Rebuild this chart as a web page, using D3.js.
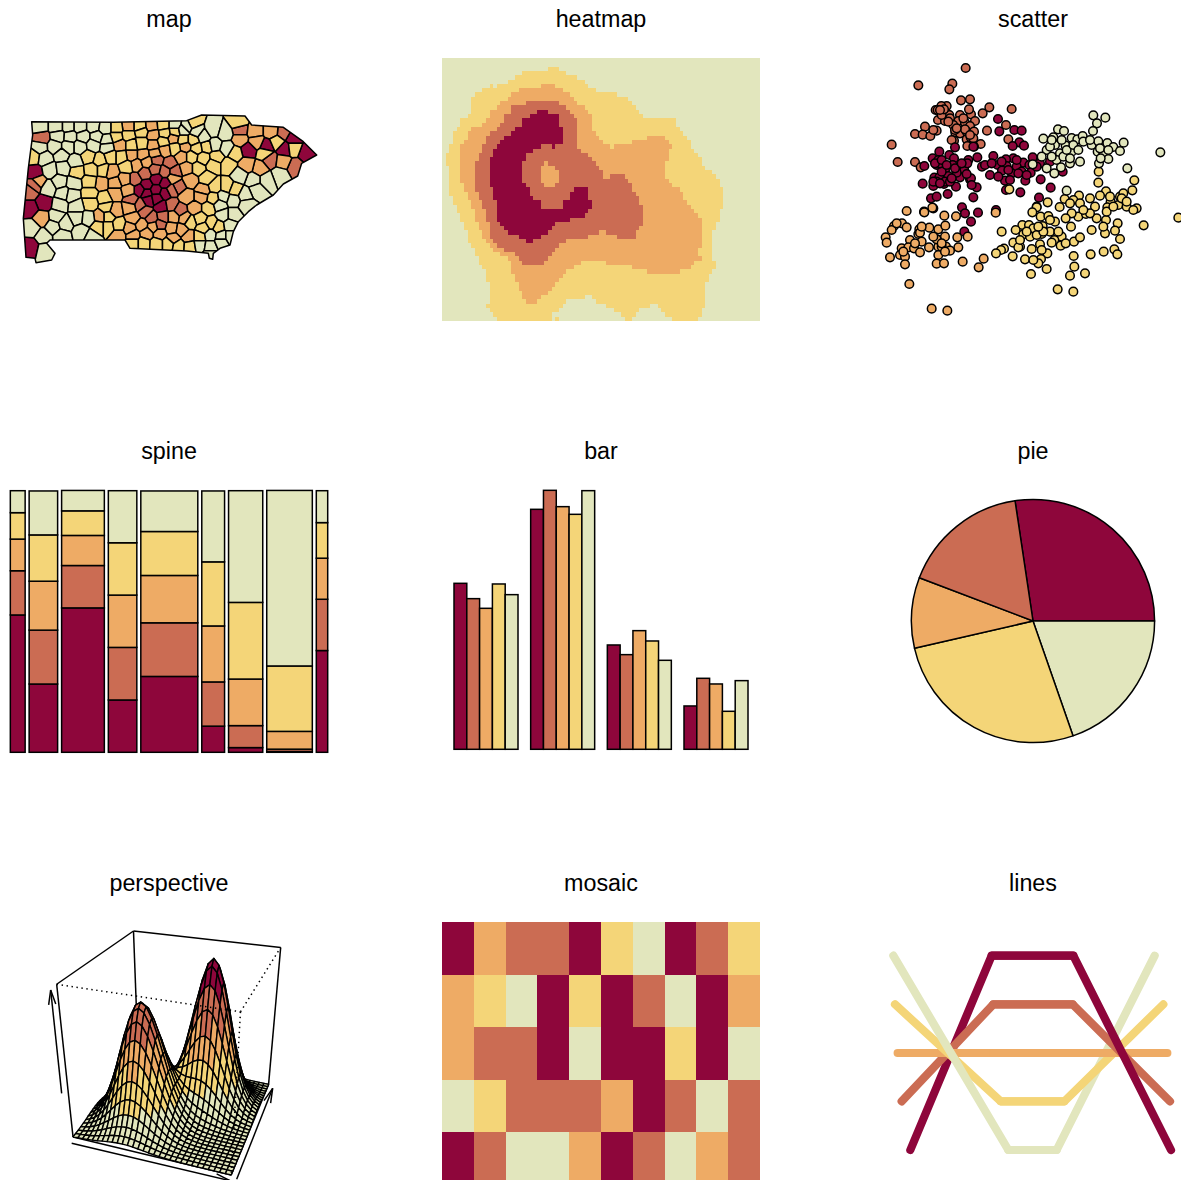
<!DOCTYPE html>
<html><head><meta charset="utf-8">
<script src="https://cdn.jsdelivr.net/npm/d3@7"></script>
<style>html,body{margin:0;padding:0;background:#fff;overflow:hidden}svg{display:block}
text{font-family:"Liberation Sans",Arial,sans-serif;fill:#000}</style></head><body>
<svg id="chart" width="1181" height="1180"></svg>
<script>
const panelTitles=["map","heatmap","scatter","spine","bar","pie","perspective","mosaic","lines"];
const palette=["#8E063B","#CB6C53","#EEAB65","#F4D578","#E2E6BD"]; // C R O Y L
const LW=1.5;

// ---- map: county seed points per colour class
const mapOutline=[95,95,340,97,560,92,605,75,735,78,755,105,850,112,910,155,950,195,905,220,893,258,850,282,820,315,770,345,745,365,715,395,700,425,690,465,660,475,640,490,638,508,628,505,625,490,560,483,390,475,375,450,150,450,140,460,165,490,155,510,108,518,105,505,78,502,70,385,85,235,98,135];
const mapC=[105,248,132,338,90,355,92,470,420,300,440,285,470,268,495,280,440,310,468,300,495,310,445,330,470,325,485,350,880,145,800,168,745,180,855,178,920,190];
const mapR=[125,143,90,305,105,285,470,210,510,220,405,268,435,250,465,238,495,245,525,245,535,290,395,330,515,300,420,345,515,345,540,360,435,365,455,385,490,380,480,405,720,120,850,128,810,210,885,230];
const mapO=[125,385,115,275,305,280,345,280,345,310,345,360,300,380,355,435,385,110,455,108,460,135,360,165,460,165,520,145,395,195,430,195,465,190,495,180,555,170,410,225,440,215,545,200,375,268,560,235,385,300,520,265,572,270,610,300,560,320,605,320,390,352,585,355,400,385,520,380,555,385,390,415,425,405,460,410,515,415,545,420,400,435,440,430,480,430,520,445,565,440,720,148,765,125,770,155,815,125,850,215,780,235,740,225,335,245];
const mapY=[100,200,265,200,300,210,332,200,230,245,275,240,310,240,270,310,315,325,270,340,320,352,325,380,295,410,325,410,355,405,350,115,420,110,490,105,580,100,350,140,385,135,425,125,495,130,525,125,395,165,425,160,490,155,550,150,580,150,365,200,525,175,590,175,620,170,380,230,575,200,610,205,650,200,705,190,715,100,595,235,640,225,685,225,620,265,645,290,680,290,705,300,640,325,625,355,600,385,635,400,570,395,610,415,655,410,600,440,400,460,430,460,470,462,505,462,535,468,570,470,830,155,880,175,795,190,270,275];
const mapL=[120,110,170,110,205,110,240,110,280,110,315,115,175,138,210,140,250,140,290,140,320,150,120,172,165,170,205,170,240,170,280,165,322,172,135,205,185,195,225,215,150,240,190,235,145,295,180,275,220,280,190,310,180,345,215,315,230,350,230,382,170,380,160,410,195,400,185,438,245,425,265,385,275,440,95,415,130,440,135,480,525,105,560,110,550,120,590,125,610,140,640,120,645,165,675,130,680,175,670,320,660,345,700,330,670,375,700,375,690,405,630,435,665,440,690,440,600,465,630,470,665,455,630,495,840,255,800,270,760,270,720,255,770,300,735,315,740,345];

// ---- heatmap: per row, level:from-to runs over 87 columns (0 L,1 Y,2 O,3 R,4 C)
const heatRows=["","","1:29-32","1:22-34","1:20-37","1:18-39","1:13-14,1:15-40,2:27-31","1:11-42,2:21-33","1:9-48,2:19-35","1:8-51,2:18-36",
"1:8-52,2:16-37,3:23-32","1:8-53,2:15-39,3:19-34","1:8-54,2:13-40,3:19-35,4:26-29","1:7-55,2:13-41,3:17-36,4:24-32","1:5-64,2:12-41,3:17-37,4:22-32","1:5-64,2:11-41,3:16-37,4:22-32","1:4-65,2:8-41,3:15-37,4:20-33","1:3-66,2:7-42,3:13-37,4:19-33","1:3-67,2:7-43,2:56-61,3:12-37,4:17-33","1:3-68,2:6-44,2:52-62,3:12-37,4:16-33",
"1:2-68,2:5-46,2:47-63,3:11-37,4:15-27,4:30-31","1:2-69,2:5-62,3:11-38,4:14-25","1:1-70,2:5-62,3:10-40,4:14-23","1:1-71,2:5-62,3:10-41,4:13-23","1:1-71,2:5-61,3:9-42,4:13-22,2:28-29","1:2-72,2:5-61,3:9-43,4:13-22,2:27-31","1:2-74,2:5-61,3:9-44,4:13-22,2:27-32","1:2-75,2:5-61,3:9-44,3:46-50,4:13-22,2:27-32","1:2-76,2:5-62,3:9-51,4:13-22,2:27-32","1:2-76,2:6-63,3:9-52,4:13-23,2:28-31",
"1:2-77,2:6-65,3:9-52,4:14-24,4:36-40","1:2-77,2:7-66,3:10-53,4:14-24,4:35-40","1:3-77,2:7-66,3:10-54,4:14-25,4:35-40","1:3-77,2:8-67,3:11-54,4:15-27,4:33-41","1:4-77,2:8-68,3:11-55,4:15-27,4:33-41","1:4-76,2:9-69,3:12-55,4:15-40","1:5-76,2:9-70,3:12-55,4:15-39","1:5-76,2:9-71,3:12-55,4:15-35","1:6-75,2:10-71,3:13-55,4:16-31","1:6-75,2:10-71,3:13-54,4:17-30",
"1:7-74,2:11-71,3:13-43,3:45-53,4:18-29","1:7-74,2:11-71,3:13-40,3:48-53,4:21-27","1:7-74,2:12-71,3:14-34,4:23-25","1:8-74,2:13-71,3:15-32","1:9-74,2:14-70,3:17-31","1:9-74,2:16-70,3:20-30","1:10-74,2:18-71,3:21-29","1:10-75,2:19-38,2:45-69,3:22-28","1:11-75,2:19-36,2:52-68","1:12-74,2:19-34,2:56-65",
"1:12-73,2:20-33","1:12-73,2:20-32","1:13-72,2:21-31","1:13-72,2:21-30","1:13-72,2:22-29","1:13-72,2:22-27,0:39-41","1:13-72,2:23-26,0:34-42","1:12-72,0:33-45,0:57-59","1:13-71,0:32-47,0:54-60","1:14-71,0:30-49,0:53-61","1:15-70,0:30-31,0:32-50,0:52-63"];

// ---- scatter points per class
const scatR=[287,54,145,106,247,101,238,118,273,151,300,148,425,177,358,172,338,190,230,168,214,168,197,180,203,180,230,190,238,195,270,195,303,193,297,178,204,210,225,213,240,205,265,213,285,218,315,213,300,228,250,225,165,230,200,242,135,252,158,254,181,258,190,240,256,248,270,250,290,245,312,245,351,242,408,225,252,272,290,268,302,262,332,282,292,288,312,290,415,268,65,284,83,336,135,336,152,352,215,195,222,178,255,240,310,265,285,238,245,270,260,235,300,255,210,180,235,215,280,205];
const scatC=[384,207,388,244,433,240,455,242,448,277,428,288,462,287,255,292,310,290,208,305,188,325,205,330,238,315,252,325,295,330,322,322,370,318,430,325,408,328,460,338,488,322,510,340,540,335,163,348,200,345,225,360,248,345,268,352,283,360,336,350,360,375,383,345,410,348,396,362,440,350,478,345,455,365,482,368,193,383,208,382,235,378,270,382,300,388,405,392,466,392,512,388,158,401,190,408,222,402,258,410,320,412,303,385,408,420,451,427,233,432,183,445,200,440,310,442,542,413,507,443,276,472,500,470,190,475,162,485,285,490,324,488,378,480,303,515,283,545,225,395,260,368,215,365,345,345,385,380,425,370,578,365,420,390,292,340,210,340,290,372,200,395,240,395,195,340,215,330,230,345,255,355,275,340,190,395,210,400,245,385,305,405,365,340,395,335,415,360,445,370,470,375,440,330,500,350];
const scatO=[110,483,163,487,187,473,223,497,258,499,377,488,96,520,72,528,65,540,110,532,148,538,178,533,205,538,226,527,47,562,50,578,120,570,145,552,155,575,207,570,225,560,262,562,293,560,95,595,115,592,132,595,150,607,177,592,205,590,228,590,240,602,265,592,60,622,90,615,105,620,205,615,105,643,200,641,222,640,278,635,341,626,326,652,118,702,185,776,232,782,150,548,200,568,215,590,215,580,135,580,100,605,225,605,190,560,155,530,80,520];
const scatY=[686,365,793,391,685,398,787,421,708,424,627,437,610,450,584,447,533,457,569,471,500,472,487,487,630,460,660,445,690,437,750,440,760,430,722,455,745,465,770,470,800,475,790,480,712,472,675,470,625,500,648,492,605,490,587,505,512,500,535,498,555,515,540,510,680,505,708,510,743,520,821,526,925,503,665,540,705,550,735,542,750,567,603,530,457,525,437,540,477,525,395,545,460,553,490,535,518,528,540,545,515,552,575,560,553,570,430,578,450,590,402,596,393,600,378,610,445,592,485,597,510,583,545,578,572,587,587,580,612,575,630,562,532,610,428,619,465,628,513,627,505,640,530,657,611,618,662,613,701,605,733,598,742,613,613,650,645,670,600,677,483,672,563,718,610,725,565,545,480,560,500,555,418,418,520,545,505,530,470,545,450,570,515,600,490,630,710,485,730,470,660,490,640,480,700,530,755,445,770,455,600,460,720,440];
const scatL=[670,196,706,203,681,220,669,243,564,238,582,243,520,266,550,262,605,264,622,268,638,258,665,285,685,274,712,279,761,278,587,287,555,285,530,300,515,320,570,310,615,295,605,305,640,275,730,291,750,303,683,305,700,310,715,327,630,335,600,340,560,330,488,343,530,355,573,352,553,370,871,307,772,355,687,340,590,422,692,325,540,290,580,320,590,300,610,285,625,300,660,270,690,295,715,300,545,270,575,270,600,325,545,320];

// ---- spine
const spineWeights=[2.6,5,7.5,5,10,4,6,8,2];
const spineC=[52.5,26.1,55.2,20,29,10,1.8,0.3,38.9];
const spineR=[16.9,20.6,16.2,20.1,20.5,16.9,8.4,0.9,19.6];
const spineO=[12.1,18.7,11.5,20,18.1,21.4,17.8,6.8,15.7];
const spineY=[10.1,17.7,9.4,20,16.8,24.5,29.3,25,13.6];
const spineL=[8.4,16.8,7.8,19.9,15.5,27.1,42.7,67.1,12.2];

// ---- bar
const barGroups=["A","B","C","D"];
const barC=[49.8,72,31.3,13];
const barR=[45.2,77.7,28.4,21.3];
const barO=[42.3,72.8,35.6,19.6];
const barY=[49.6,70.5,32.5,11.4];
const barL=[46.4,77.6,26.7,20.6];

// ---- pie (clockwise, degrees)
const pieValues=[98.5,70.8,96.3,33.7,60.7];
const pieColours=[0,4,3,2,1];

// ---- perspective: upper triangle of a symmetric 31x31 height table (per mille); omitted trailing cells are 0
const surfaceZ=[
[2,3,5,8,12,16,22,27,31,35,36,35,31,27,22,16,12,8,5,3,2,1],
[5,9,14,21,30,39,49,57,63,65,63,57,49,39,30,21,14,9,5,3,2,1],
[15,24,36,50,67,83,97,106,110,106,97,83,67,50,36,24,15,9,5,3,1,1],
[38,57,80,106,132,155,170,175,170,155,132,106,80,57,38,24,14,8,4,2,1],
[85,120,160,199,232,255,263,255,232,199,160,120,85,57,36,21,12,6,3,1,1],
[170,225,280,327,359,371,359,327,280,225,170,120,80,50,30,16,9,4,2,1],
[298,371,434,476,491,476,434,371,298,225,160,107,67,40,22,12,6,3,1,1],
[462,540,593,611,593,540,462,371,280,199,133,84,50,28,15,8,4,2,1,1],
[631,693,715,693,631,540,435,329,234,157,100,61,35,20,11,6,4,2,1,1],
[761,785,761,694,594,478,363,260,176,114,72,44,27,17,11,7,4,3,1,1],
[810,786,717,615,497,379,274,190,128,85,57,39,27,19,13,9,6,3,2,1],
[763,697,599,487,376,279,201,144,105,78,60,46,35,25,17,11,7,4,2,1],
[638,552,455,360,278,214,169,138,116,98,81,63,47,33,21,13,7,4,2],
[484,409,338,280,239,212,194,178,159,136,110,83,58,38,23,13,7,3],
[360,320,294,283,280,279,271,251,219,179,136,96,62,38,21,11,5],
[315,326,350,377,396,398,375,331,271,206,146,95,58,32,17,8],
[376,438,498,540,551,525,465,382,292,206,135,81,46,24,11],
[537,629,694,714,684,608,500,382,269,176,107,60,31,15],
[749,833,862,827,736,606,462,327,214,129,73,38,18],
[931,965,927,825,680,519,367,240,145,82,42,20],
[1002,963,857,707,539,381,249,151,85,44,21],
[926,825,680,519,367,240,145,82,42,20],
[734,606,462,327,214,129,73,38,18],
[499,381,269,176,107,60,31,15],
[291,206,135,81,46,24,11],
[145,95,58,32,17,8],
[62,38,21,11,5],
[23,13,7,3],
[7,4,2],
[2,1],
[0]];
const surfaceBreaks=[800,600,400,200];
const viewTheta=20, viewPhi=28, viewR=5;

// ---- mosaic rows (colour indices)
const mosaicRows=[
[0,2,1,1,0,3,4,0,1,3],
[2,3,4,0,3,0,1,4,0,2],
[2,1,1,0,4,0,0,3,0,4],
[4,3,1,1,1,2,0,1,4,1],
[0,1,4,4,2,0,1,4,2,1]];

// ---- lines
const lineXC=[91,335,580,873], lineYC=[630,47,47,630];
const lineXR=[65,340,578,870], lineYR=[484,193,193,484];
const lineXO=[53,340,580,862], lineYO=[339,339,339,339];
const lineXY=[45,362,553,850], lineYY=[193,484,484,193];
const lineXL=[40,385,530,824], lineYL=[47,630,630,47];

// =========================================================
const svg=d3.select("#chart");
const titleX=[169,601,1033], titleY=[27,459,891];
svg.selectAll("text.t").data(panelTitles).join("text").attr("class","t")
  .attr("x",(d,i)=>titleX[i%3]).attr("y",(d,i)=>titleY[Math.floor(i/3)])
  .attr("text-anchor","middle").attr("font-size",23.3).text(d=>d);
const pairs=a=>d3.range(a.length/2).map(i=>[a[2*i],a[2*i+1]]);

// map
(function(){
  const x=d3.scaleLinear().domain([0,1020]).range([0,340]);
  const y=d3.scaleLinear().domain([0,570]).range([90,280]);
  const g=svg.append("g");
  const seeds=[];
  [mapC,mapR,mapO,mapY,mapL].forEach((a,k)=>pairs(a).forEach(p=>seeds.push({x:x(p[0]),y:y(p[1]),k})));
  const vor=d3.Delaunay.from(seeds,d=>d.x,d=>d.y).voronoi([0,80,345,290]);
  const outline=d3.line().x(d=>x(d[0])).y(d=>y(d[1])).curve(d3.curveLinearClosed)(pairs(mapOutline));
  svg.append("defs").append("clipPath").attr("id","mapclip").append("path").attr("d",outline);
  g.append("g").attr("clip-path","url(#mapclip)").selectAll("path").data(seeds).join("path")
    .attr("d",(d,i)=>vor.renderCell(i)).attr("fill",d=>palette[d.k]).attr("stroke","#000").attr("stroke-width",LW).attr("stroke-linejoin","round");
  g.append("path").attr("d",outline).attr("fill","none").attr("stroke","#000").attr("stroke-width",LW).attr("stroke-linejoin","round");
})();

// heatmap
(function(){
  const lv=[4,3,2,1,0];
  const x=d3.scaleBand().domain(d3.range(87)).range([442,760]);
  const y=d3.scaleBand().domain(d3.range(61)).range([58,321]);
  const cells=[];
  heatRows.forEach((s,r)=>{
    const row=new Array(87).fill(0);
    if(s) s.split(",").forEach(t=>{const [l,se]=t.split(":");const [a,b]=se.split("-").map(Number);for(let c=a;c<b;c++)row[c]=+l;});
    row.forEach((l,c)=>cells.push({r,c,l}));
  });
  const R=Math.round;
  svg.append("g").attr("shape-rendering","crispEdges").selectAll("rect").data(cells).join("rect")
    .attr("x",d=>R(x(d.c))).attr("y",d=>R(y(d.r)))
    .attr("width",d=>R(x(d.c)+x.bandwidth())-R(x(d.c))).attr("height",d=>R(y(d.r)+y.bandwidth())-R(y(d.r)))
    .attr("fill",d=>palette[lv[d.l]]);
})();

// scatter
(function(){
  const x=d3.scaleLinear().domain([0,933]).range([870,1181]);
  const y=d3.scaleLinear().domain([0,840]).range([50,330]);
  const g=svg.append("g");
  [[scatR,1],[scatC,0],[scatO,2],[scatY,3],[scatL,4]].forEach(([a,k])=>{
    g.append("g").selectAll("circle").data(pairs(a)).join("circle")
      .attr("cx",d=>x(d[0])).attr("cy",d=>y(d[1])).attr("r",4.3)
      .attr("fill",palette[k]).attr("stroke","#000").attr("stroke-width",LW);
  });
})();

// spine
(function(){
  const gap=0.7;
  const total=d3.sum(spineWeights)+gap*(spineWeights.length-1);
  const x=d3.scaleLinear().domain([0,total]).range([10.33,327.7]);
  const y=d3.scaleLinear().domain([0,100]).range([752.3,490.7]);
  const g=svg.append("g");
  let pos=0;
  spineWeights.forEach((w,i)=>{
    let acc=0;
    [spineC,spineR,spineO,spineY,spineL].forEach((s,k)=>{
      g.append("rect").attr("x",x(pos)).attr("width",x(pos+w)-x(pos))
        .attr("y",y(acc+s[i])).attr("height",y(acc)-y(acc+s[i]))
        .attr("fill",palette[k]).attr("stroke","#000").attr("stroke-width",LW);
      acc+=s[i];
    });
    pos+=w+gap;
  });
})();

// bar
(function(){
  const x0=d3.scaleBand().domain(barGroups).range([454,748]).paddingInner(38/230);
  const series=[barC,barR,barO,barY,barL];
  const x1=d3.scaleBand().domain(d3.range(5)).range([0,x0.bandwidth()]);
  const y=d3.scaleLinear().domain([0,100]).range([749.3,416]);
  const g=svg.append("g");
  barGroups.forEach((b,i)=>series.forEach((s,k)=>{
    g.append("rect").attr("x",x0(b)+x1(k)).attr("width",x1.bandwidth()).attr("y",y(s[i])).attr("height",y(0)-y(s[i]))
      .attr("fill",palette[k]).attr("stroke","#000").attr("stroke-width",LW);
  }));
})();

// pie
(function(){
  const start=-8.5*Math.PI/180;
  const pie=d3.pie().sort(null).startAngle(start).endAngle(start+2*Math.PI);
  const arc=d3.arc().innerRadius(0).outerRadius(121.6);
  svg.append("g").attr("transform","translate(1033,621)").selectAll("path").data(pie(pieValues)).join("path")
    .attr("d",arc).attr("fill",(d,i)=>palette[pieColours[i]]).attr("stroke","#000").attr("stroke-width",LW).attr("stroke-linejoin","round");
})();

// perspective
(function(){
  const n=31, rad=Math.PI/180;
  const ct=Math.cos(viewTheta*rad),st=Math.sin(viewTheta*rad),cp=Math.cos(viewPhi*rad),sp=Math.sin(viewPhi*rad);
  const Z=(i,j)=>{const a=Math.min(i,j),b=Math.max(i,j);const v=surfaceZ[a][b-a];return v===undefined?0:v;};
  const proj=(u,v,w)=>{
    const q=u*st-v*ct, zz=w*sp+q*cp, d=viewR+2-zz;
    return [(u*ct+v*st)/d,(w*cp-q*sp)/d];
  };
  const corners={A:[-1,-1,-1],B:[1,-1,-1],C:[1,1,-1],D:[-1,1,-1],a:[-1,-1,1],b:[1,-1,1],c:[1,1,1],d:[-1,1,1]};
  const pr={};Object.keys(corners).forEach(k=>pr[k]=proj(...corners[k]));
  // screen fit
  const sx=d3.scaleLinear().domain([pr.a[0],pr.c[0]]).range([30+80/3,30+752/3]);
  const sy=d3.scaleLinear().domain([pr.B[1],pr.d[1]]).range([920+765/3,920+33/3]);
  const P=p=>[sx(p[0]),sy(p[1])];
  const line=d3.line();
  const g=svg.append("g").attr("fill","none").attr("stroke","#000").attr("stroke-width",LW);
  [["A","B"],["B","C"],["C","D"],["D","A"],["a","d"],["d","c"],["c","C"],["d","D"],["a","A"]].forEach(e=>
    g.append("path").attr("d",line([P(pr[e[0]]),P(pr[e[1]])])));
  const toU=d3.scaleLinear().domain([0,n-1]).range([-1,1]);
  const toW=d3.scaleLinear().domain([0,1002]).range([-1,1]);
  const facets=[];
  for(let i=0;i<n-1;i++)for(let j=n-2;j>=0;j--){
    const vals=[[i,j],[i+1,j],[i+1,j+1],[i,j+1]];
    const m=d3.mean(vals,c=>Z(c[0],c[1]));
    let k=4; surfaceBreaks.forEach((b,t)=>{if(k===4&&m>=b)k=t;});
    facets.push({pts:vals.map(c=>P(proj(toU(c[0]),toU(c[1]),toW(Z(c[0],c[1]))))),k});
  }
  svg.append("g").selectAll("path").data(facets).join("path")
    .attr("d",d=>line(d.pts)+"Z").attr("fill",d=>palette[d.k]).attr("stroke","#000").attr("stroke-width",1.4).attr("stroke-linejoin","round");
  const f=svg.append("g").attr("fill","none").attr("stroke","#000").attr("stroke-width",LW).attr("stroke-dasharray","1.4 3.6");
  [["a","b"],["b","c"],["b","B"]].forEach(e=>f.append("path").attr("d",line([P(pr[e[0]]),P(pr[e[1]])])));
  // axis arrows
  const zx=d3.scaleLinear().domain([0,810]).range([30,300]);
  const zy=d3.scaleLinear().domain([0,780]).range([920,1180]);
  const arrows=[[95,520,62,210],[125,670,600,782],[620,778,728,505]];
  const ag=svg.append("g").attr("fill","none").attr("stroke","#000").attr("stroke-width",LW);
  arrows.forEach(a=>{
    const p0=[zx(a[0]),zy(a[1])],p1=[zx(a[2]),zy(a[3])];
    const ang=Math.atan2(p1[1]-p0[1],p1[0]-p0[0]),L=15,da=0.24;
    ag.append("path").attr("d",line([p0,p1]));
    ag.append("path").attr("d",line([[p1[0]-L*Math.cos(ang-da),p1[1]-L*Math.sin(ang-da)],p1,[p1[0]-L*Math.cos(ang+da),p1[1]-L*Math.sin(ang+da)]]));
  });
})();

// mosaic
(function(){
  const x=d3.scaleLinear().domain([0,10]).range([442,760]);
  const y=d3.scaleBand().domain(d3.range(5)).range([922,1185]);
  const cells=[];mosaicRows.forEach((r,i)=>r.forEach((k,j)=>cells.push({i,j,k})));
  const R=Math.round;
  svg.append("g").attr("shape-rendering","crispEdges").selectAll("rect").data(cells).join("rect")
    .attr("x",d=>R(x(d.j))).attr("y",d=>R(y(d.i))).attr("width",d=>R(x(d.j+1))-R(x(d.j))).attr("height",d=>R(y(d.i)+y.bandwidth())-R(y(d.i))).attr("fill",d=>palette[d.k]);
})();

// lines
(function(){
  const x=d3.scaleLinear().domain([0,900]).range([880,1180]);
  const y=d3.scaleLinear().domain([0,720]).range([940,1180]);
  const L=d3.line().x(d=>x(d[0])).y(d=>y(d[1]));
  const sets=[[lineXC,lineYC,0],[lineXR,lineYR,1],[lineXO,lineYO,2],[lineXY,lineYY,3],[lineXL,lineYL,4]];
  const g=svg.append("g").attr("fill","none").attr("stroke-width",8.2).attr("stroke-linecap","round").attr("stroke-linejoin","round");
  const half=(s,a,b)=>[[s[0][a],s[1][a]],[s[0][a+1],s[1][a+1]],[s[0][b],s[1][b]]];
  sets.forEach(s=>g.append("path").attr("stroke",palette[s[2]]).attr("d",L(half(s,0,2))));
  sets.slice().reverse().forEach(s=>g.append("path").attr("stroke",palette[s[2]]).attr("d",L(half(s,1,3))));
})();
</script></body></html>
